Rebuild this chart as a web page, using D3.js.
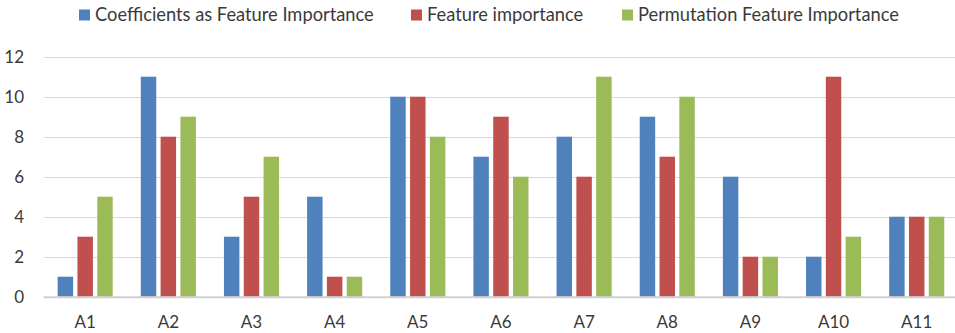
<!DOCTYPE html>
<html>
<head>
<meta charset="utf-8">
<script src="https://cdn.jsdelivr.net/npm/d3@7"></script>
<style>
  html, body { margin: 0; padding: 0; background: #fff; }
  svg text { font-family: Lato, "Open Sans", sans-serif; fill: #3a3a3a; }
</style>
</head>
<body>
<svg id="chart" width="955" height="333"></svg>
<script>
// Feature ranking per attribute, three importance methods
const categories = ["A1", "A2", "A3", "A4", "A5", "A6", "A7", "A8", "A9", "A10", "A11"];
const seriesNames = ["Coefficients as Feature Importance", "Feature importance", "Permutation Feature Importance"];
const coefficients = [1, 11, 3, 5, 10, 7, 8, 9, 6, 2, 4];
const featureImportance = [3, 8, 5, 1, 10, 9, 6, 7, 2, 11, 4];
const permutationImportance = [5, 9, 7, 1, 8, 6, 11, 10, 2, 3, 4];
const yTicks = [0, 2, 4, 6, 8, 10, 12];
const colors = ["#4f81bd", "#c0504d", "#9bbb59"];

const seriesValues = [coefficients, featureImportance, permutationImportance];
const svg = d3.select("#chart");

const x0 = d3.scaleBand().domain(categories).range([43.6, 958.3])
  .paddingInner(0.285).paddingOuter(0.1425);
const x1 = d3.scaleBand().domain(seriesNames).range([0, x0.bandwidth()])
  .paddingInner(0.22).paddingOuter(0.11);
const y = d3.scaleLinear().domain([0, 12]).range([296.7, 56.7]);

// gridlines
svg.append("g").selectAll("line").data(yTicks.filter(t => t > 0)).join("line")
  .attr("x1", 43.6).attr("x2", 955)
  .attr("y1", d => Math.round(y(d)) + 0.5).attr("y2", d => Math.round(y(d)) + 0.5)
  .attr("stroke", "#d9d9d9").attr("stroke-width", 1);

// y tick labels
svg.append("g").selectAll("text").data(yTicks).join("text")
  .attr("x", 24).attr("y", d => y(d)).attr("dy", "0.35em")
  .attr("text-anchor", "end").attr("font-size", 17)
  .text(d => d);

// bars
const groups = svg.append("g").selectAll("g").data(categories).join("g")
  .attr("transform", c => `translate(${x0(c)},0)`);
groups.selectAll("rect")
  .data((c, i) => seriesNames.map((s, j) => ({ s, j, v: seriesValues[j][i] })))
  .join("rect")
  .attr("x", d => x1(d.s)).attr("width", x1.bandwidth())
  .attr("y", d => y(d.v)).attr("height", d => y(0) - y(d.v))
  .attr("fill", d => colors[d.j]);

// baseline
svg.append("line").attr("x1", 43.6).attr("x2", 955)
  .attr("y1", y(0) + 0.5).attr("y2", y(0) + 0.5)
  .attr("stroke", "#d0d0d0").attr("stroke-width", 2);

// category labels
svg.append("g").selectAll("text").data(categories).join("text")
  .attr("x", c => x0(c) + x0.bandwidth() / 2).attr("y", 322).attr("dy", "0.35em")
  .attr("text-anchor", "middle").attr("font-size", 17)
  .text(c => c);

// legend
const legendX = [79, 411, 622];
const legend = svg.append("g").selectAll("g").data(seriesNames).join("g")
  .attr("transform", (s, i) => `translate(${legendX[i]},0)`);
legend.append("rect").attr("x", 0).attr("y", 9.5).attr("width", 11).attr("height", 11)
  .attr("fill", (s, i) => colors[i]);
legend.append("text").attr("x", 16).attr("y", 15).attr("dy", "0.35em")
  .attr("font-size", 18.3).text(s => s);
</script>
</body>
</html>
